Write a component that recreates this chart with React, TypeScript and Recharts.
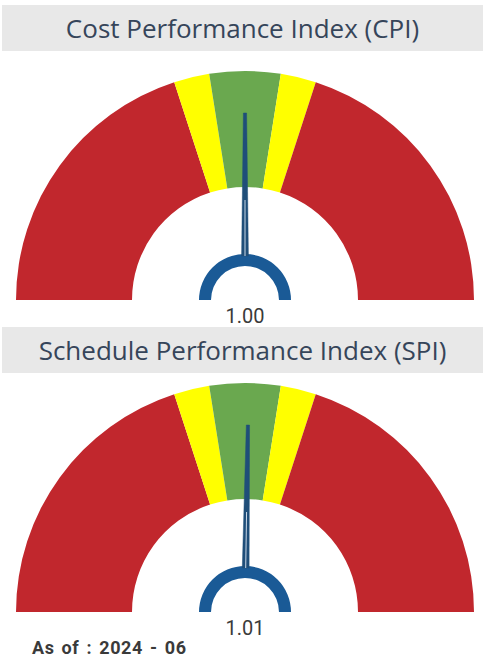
import React from 'react';
import { PieChart, Pie, Cell } from 'recharts';

const bandNames = ['Poor low', 'Warning low', 'On target', 'Warning high', 'Poor high'];
const bandSizes = [0.8, 0.1, 0.2, 0.1, 0.8];
const bandColors = ['#c1272d', '#ffff00', '#6aa84f', '#ffff00', '#c1272d'];
const gaugeMax = 2;
const gaugeTitles = ['Cost Performance Index (CPI)', 'Schedule Performance Index (SPI)'];
const gaugeValues = [1.0, 1.01];
const hubData = [{ name: 'hub', value: 1 }];
const asOfLabel = 'As of : 2024 - 06';

const bandData = bandNames.map((name, i) => ({ name, value: bandSizes[i] }));

const RAD = Math.PI / 180;
const pt = (cx: number, cy: number, r: number, a: number) => ({
  x: cx + r * Math.cos(-a * RAD),
  y: cy + r * Math.sin(-a * RAD),
});

const renderNeedle = (props: any) => {
  if (props.index !== 0) return null;
  const { cx, cy, endAngle, value } = props;
  const a = endAngle;
  const tip = pt(cx, cy, 187, a);
  const base = pt(cx, cy, 44, a);
  const px = Math.cos((-a + 90) * RAD);
  const py = Math.sin((-a + 90) * RAD);
  const wb = 3.4;
  const wt = 1.6;
  const points = [
    `${base.x + px * wb},${base.y + py * wb}`,
    `${tip.x + px * wt},${tip.y + py * wt}`,
    `${tip.x - px * wt},${tip.y - py * wt}`,
    `${base.x - px * wb},${base.y - py * wb}`,
  ].join(' ');
  const innerTop = pt(cx, cy, 100, a);
  return (
    <g>
      <polygon points={points} fill="#1f4e79" stroke="#1f4e79" strokeWidth={0.5} />
      <line x1={base.x} y1={base.y} x2={innerTop.x} y2={innerTop.y} stroke="#c9d8e8" strokeWidth={1} />
      <text
        x={cx}
        y={cy + 23}
        textAnchor="middle"
        fontFamily="Roboto, sans-serif"
        fontSize={20}
        fill="#3a3a3a"
      >
        {Number(value).toFixed(2)}
      </text>
    </g>
  );
};

const Gauge = ({ value, top, height, cy }: { value: number; top: number; height: number; cy: number }) => {
  const needleData = [
    { name: 'value', value },
    { name: 'rest', value: gaugeMax - value },
  ];
  return (
    <div style={{ position: 'absolute', left: 0, top, width: 485, height }}>
      <PieChart width={485} height={height} margin={{ top: 0, right: 0, bottom: 0, left: 0 }}>
        <Pie
          data={bandData}
          dataKey="value"
          cx={245}
          cy={cy}
          startAngle={180}
          endAngle={0}
          innerRadius={113}
          outerRadius={229}
          stroke="none"
          isAnimationActive={false}
        >
          {bandData.map((d, i) => (
            <Cell key={d.name} fill={bandColors[i]} />
          ))}
        </Pie>
        <Pie
          data={needleData}
          dataKey="value"
          cx={245}
          cy={cy}
          startAngle={180}
          endAngle={0}
          innerRadius={0}
          outerRadius={10}
          fill="transparent"
          stroke="none"
          label={renderNeedle}
          labelLine={false}
          isAnimationActive={false}
        />
        <Pie
          data={hubData}
          dataKey="value"
          cx={245}
          cy={cy}
          startAngle={180}
          endAngle={0}
          innerRadius={34}
          outerRadius={46}
          fill="#1a5a96"
          stroke="none"
          isAnimationActive={false}
        />
      </PieChart>
    </div>
  );
};

const titleStyle = (top: number): React.CSSProperties => ({
  position: 'absolute',
  left: 2,
  top,
  width: 481,
  height: 46,
  background: '#e8e8e8',
  color: '#36455a',
  fontFamily: '"Open Sans", sans-serif',
  fontSize: 26,
  lineHeight: '46px',
  textAlign: 'center',
  whiteSpace: 'nowrap',
});

export default function App() {
  return (
    <div style={{ position: 'absolute', left: 0, top: 0, width: 485, height: 659, background: '#fff', overflow: 'hidden' }}>
      <Gauge value={gaugeValues[0]} top={52} height={280} cy={248} />
      <Gauge value={gaugeValues[1]} top={373} height={286} cy={239} />
      <div style={titleStyle(5)}>{gaugeTitles[0]}</div>
      <div style={titleStyle(327)}>{gaugeTitles[1]}</div>
      <div
        style={{
          position: 'absolute',
          left: 32,
          top: 637,
          fontFamily: 'Roboto, sans-serif',
          fontWeight: 700,
          fontSize: 18,
          letterSpacing: 0.6,
          wordSpacing: 2,
          color: '#3a3a3a',
          whiteSpace: 'nowrap',
          lineHeight: '22px',
        }}
      >
        {asOfLabel}
      </div>
    </div>
  );
}
